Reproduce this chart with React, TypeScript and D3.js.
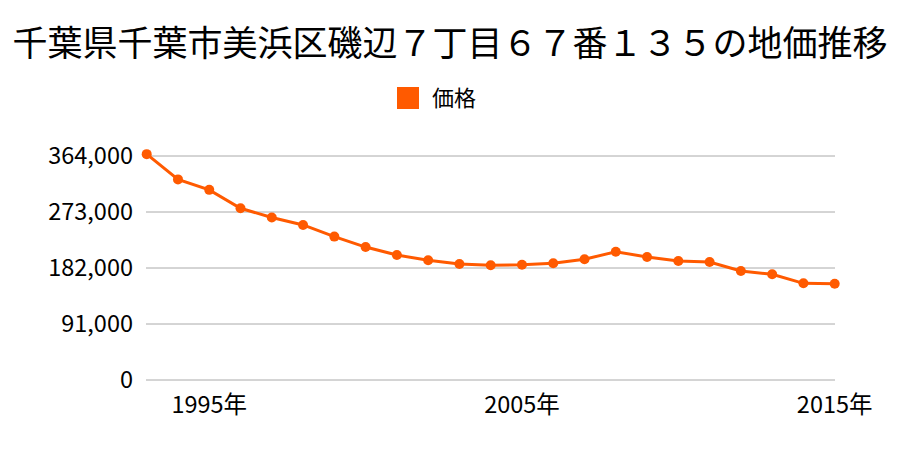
import React from "react";
import * as d3 from "d3";

const years = [1993,1994,1995,1996,1997,1998,1999,2000,2001,2002,2003,2004,2005,2006,2007,2008,2009,2010,2011,2012,2013,2014,2015];
const prices = [367000,326000,309000,279000,264000,252000,233000,216000,203000,194500,188500,186400,187400,189600,196100,208500,199900,193400,191750,177100,171700,157100,156500];
const yTicks = [0,91000,182000,273000,364000];
const xTicks = [1995,2005,2015];
const title = "千葉県千葉市美浜区磯辺７丁目６７番１３５の地価推移";
const seriesName = "価格";

const W = 900, H = 450;
const color = "#ff5a00";
const font = "'Noto Sans CJK JP', 'Noto Sans', sans-serif";

export default function App() {
  const x = d3.scaleLinear().domain([1993, 2015]).range([146.7, 834.7]);
  const y = d3.scaleLinear().domain([0, 364000]).range([380, 156]);
  const line = d3.line<number>().x((_, i) => x(years[i])).y(d => y(d));
  const fmt = d3.format(",");
  return (
    <svg width={W} height={H} style={{ position: "absolute", left: 0, top: 0, background: "#fff" }} fontFamily={font}>
      <rect width={W} height={H} fill="#fff" />
      <text x={450} y={56} textAnchor="middle" fontSize={35} fill="#000">{title}</text>
      <rect x={397} y={87} width={22} height={22} fill={color} />
      <text x={432} y={106} fontSize={22} fill="#000">{seriesName}</text>
      {yTicks.map(t => (
        <g key={t}>
          <line x1={146} x2={835} y1={y(t)} y2={y(t)} stroke="#aaa" strokeWidth={1} />
          <text x={133} y={y(t) + 8} textAnchor="end" fontSize={23.5} fill="#000">{fmt(t)}</text>
        </g>
      ))}
      {xTicks.map(t => (
        <text key={t} x={x(t)} y={413} textAnchor="middle" fontSize={23.5} fill="#000">{t}年</text>
      ))}
      <path d={line(prices) || ""} fill="none" stroke={color} strokeWidth={3} />
      {prices.map((p, i) => (
        <circle key={i} cx={x(years[i])} cy={y(p)} r={5} fill={color} />
      ))}
    </svg>
  );
}
